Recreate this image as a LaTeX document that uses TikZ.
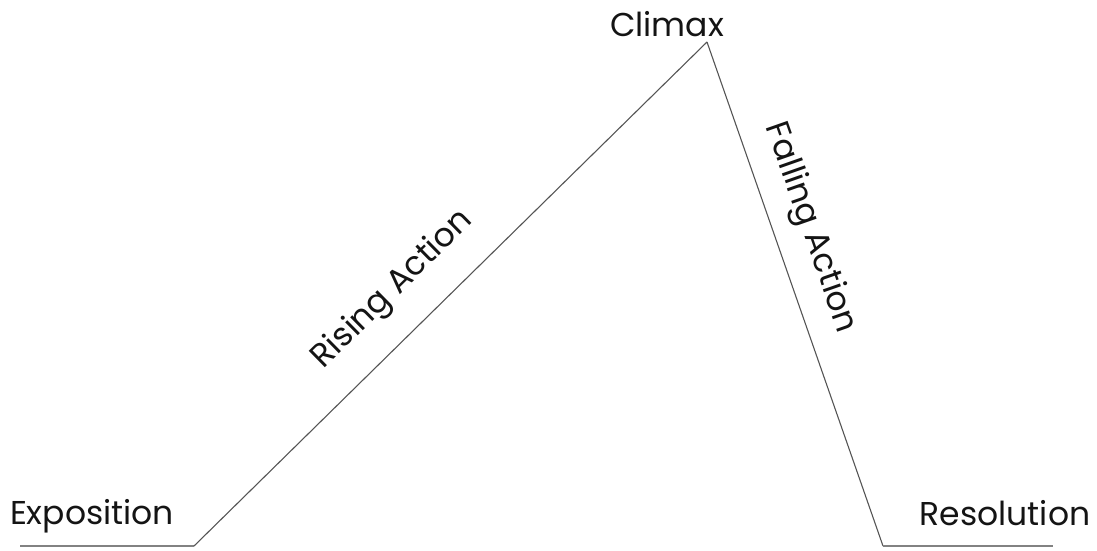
\documentclass[tikz,border=0pt]{standalone}
\usepackage{fontspec}
\setmainfont{Poppins}
\usetikzlibrary{positioning}
\definecolor{plotLine}{RGB}{85,85,85}
\definecolor{plotBase}{RGB}{130,130,130}
\definecolor{plotInk}{RGB}{20,20,20}

\begin{document}
\begin{tikzpicture}[x=1pt,y=-1pt,
  lbl/.style={inner sep=0pt,text=plotInk,font=\fontsize{33}{38}\selectfont},
  arc/.style={draw=plotLine,line width=1.1pt},
  base/.style={draw=plotBase,line width=2pt}]
\useasboundingbox (0,0) rectangle (1097,551);
% story points
\coordinate (expoL) at (20,546);
\coordinate (expoR) at (194,546);
\coordinate (peak) at (707,42);
\coordinate (resoL) at (883,546);
\coordinate (resoR) at (1053,546);
% shape
\draw[base] (expoL)--(expoR);
\draw[arc] (expoR)--(peak);
\draw[arc] (peak)--(resoL);
\draw[base] (resoL)--(resoR);
% labels
\node[lbl] (expo) at (92,516) {Exposition};
\node[lbl] (climax) at (667,24) {Climax};
\node[lbl] (reso) at (1005,513) {Resolution};
\node[lbl,rotate=44.5] (rising) at (393,290) {Rising Action};
\node[lbl,rotate=-70.7] (falling) at (810,228) {Falling Action};
\end{tikzpicture}
\end{document}
